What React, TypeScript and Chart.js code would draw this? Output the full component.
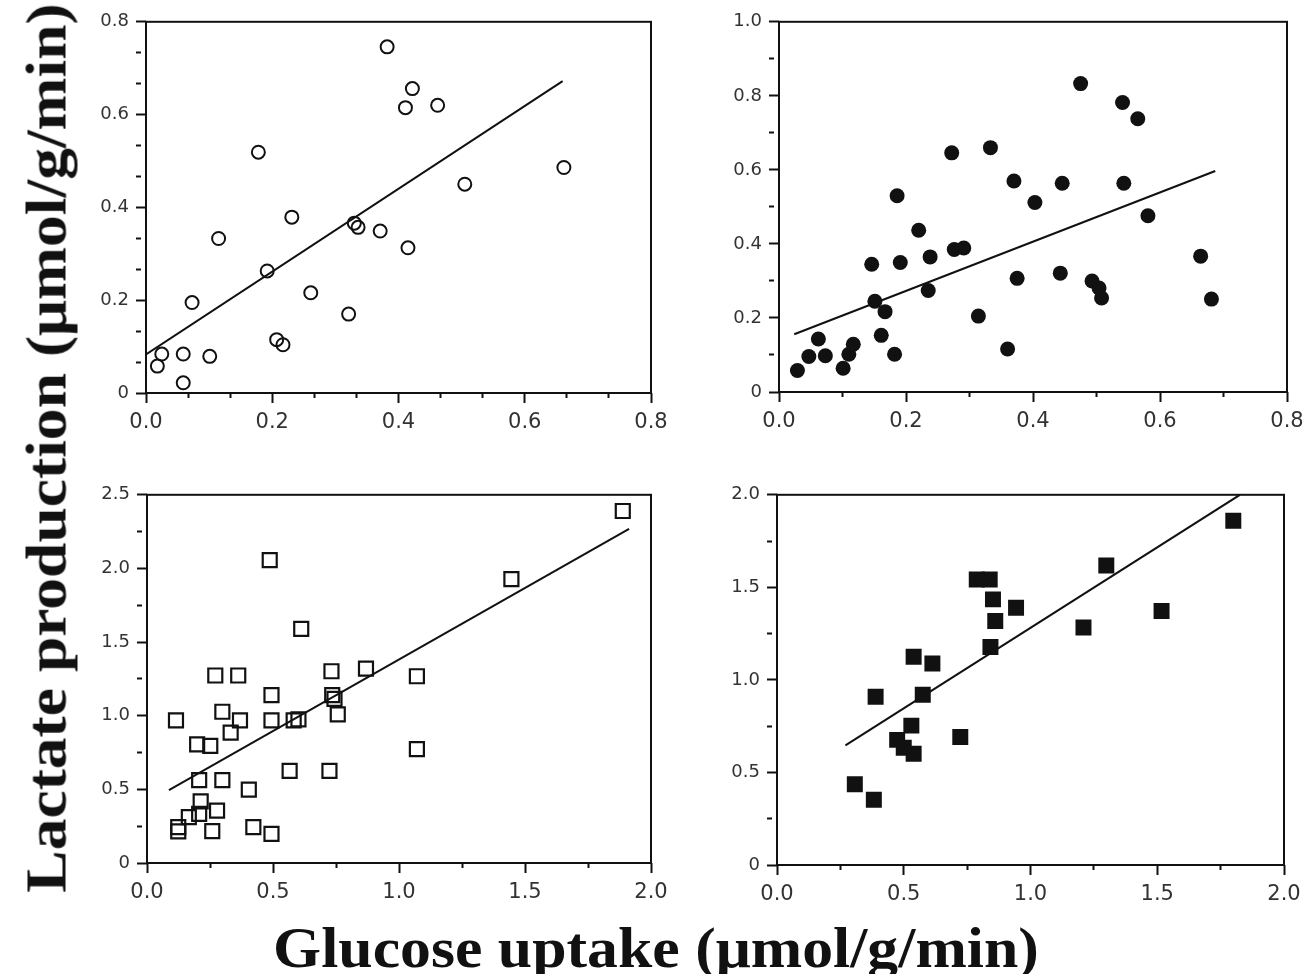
import React, { useEffect, useLayoutEffect, useRef } from "react";
import { Chart, registerables } from "chart.js";

Chart.register(...registerables);

// ---------- data ----------
// Top-left: open circles
const tlGlucose = [0.018, 0.025, 0.059, 0.059, 0.101, 0.073, 0.115, 0.178, 0.192, 0.207, 0.217, 0.231, 0.261, 0.321, 0.330, 0.336, 0.371, 0.382, 0.411, 0.422, 0.415, 0.462, 0.505, 0.662];
const tlLactate = [0.058, 0.084, 0.084, 0.022, 0.079, 0.195, 0.333, 0.519, 0.263, 0.115, 0.104, 0.379, 0.216, 0.170, 0.366, 0.357, 0.349, 0.746, 0.615, 0.656, 0.313, 0.620, 0.450, 0.486];
const tlFitX = [0.0, 0.66];
const tlFitY = [0.083, 0.672];

// Top-right: filled circles
const trGlucose = [0.029, 0.047, 0.062, 0.073, 0.101, 0.110, 0.117, 0.146, 0.151, 0.161, 0.167, 0.182, 0.186, 0.191, 0.220, 0.235, 0.238, 0.272, 0.276, 0.291, 0.314, 0.333, 0.360, 0.370, 0.375, 0.403, 0.443, 0.446, 0.475, 0.493, 0.504, 0.508, 0.541, 0.543, 0.565, 0.581, 0.664, 0.681];
const trLactate = [0.058, 0.096, 0.143, 0.098, 0.064, 0.102, 0.129, 0.345, 0.245, 0.153, 0.217, 0.102, 0.530, 0.350, 0.437, 0.274, 0.365, 0.646, 0.385, 0.389, 0.205, 0.660, 0.116, 0.570, 0.307, 0.512, 0.321, 0.564, 0.833, 0.300, 0.281, 0.254, 0.782, 0.564, 0.738, 0.476, 0.367, 0.251];
const trFitX = [0.024, 0.687];
const trFitY = [0.156, 0.597];

// Bottom-left: open squares
const blGlucose = [0.115, 0.124, 0.124, 0.166, 0.199, 0.207, 0.213, 0.207, 0.251, 0.259, 0.271, 0.278, 0.299, 0.299, 0.332, 0.362, 0.369, 0.404, 0.422, 0.487, 0.494, 0.494, 0.494, 0.566, 0.582, 0.601, 0.612, 0.724, 0.732, 0.735, 0.744, 0.757, 0.869, 1.071, 1.071, 1.446, 1.888];
const blLactate = [0.968, 0.243, 0.215, 0.311, 0.806, 0.563, 0.419, 0.333, 0.795, 0.216, 1.273, 0.356, 1.027, 0.563, 0.885, 1.273, 0.968, 0.498, 0.243, 2.056, 1.140, 0.968, 0.198, 0.626, 0.968, 0.975, 1.590, 0.626, 1.302, 1.140, 1.115, 1.009, 1.320, 1.268, 0.773, 1.928, 2.390];
const blFitX = [0.087, 1.913];
const blFitY = [0.495, 2.268];

// Bottom-right: filled squares
const brGlucose = [0.307, 0.382, 0.389, 0.474, 0.500, 0.530, 0.539, 0.539, 0.575, 0.613, 0.723, 0.788, 0.839, 0.852, 0.861, 0.842, 0.943, 1.209, 1.299, 1.517, 1.800];
const brLactate = [0.436, 0.353, 0.909, 0.676, 0.633, 0.753, 0.601, 1.125, 0.920, 1.089, 0.691, 1.543, 1.543, 1.435, 1.318, 1.178, 1.390, 1.283, 1.618, 1.372, 1.860];
const brFitX = [0.270, 1.826];
const brFitY = [0.646, 2.0];

// tick labels
const tlXTickValues = [0, 0.2, 0.4, 0.6, 0.8];
const tlXTickLabels = ["0.0", "0.2", "0.4", "0.6", "0.8"];
const tlYTickValues = [0, 0.2, 0.4, 0.6, 0.8];
const tlYTickLabels = ["0", "0.2", "0.4", "0.6", "0.8"];
const trXTickValues = [0, 0.2, 0.4, 0.6, 0.8];
const trXTickLabels = ["0.0", "0.2", "0.4", "0.6", "0.8"];
const trYTickValues = [0, 0.2, 0.4, 0.6, 0.8, 1.0];
const trYTickLabels = ["0", "0.2", "0.4", "0.6", "0.8", "1.0"];
const blXTickValues = [0, 0.5, 1.0, 1.5, 2.0];
const blXTickLabels = ["0.0", "0.5", "1.0", "1.5", "2.0"];
const blYTickValues = [0, 0.5, 1.0, 1.5, 2.0, 2.5];
const blYTickLabels = ["0", "0.5", "1.0", "1.5", "2.0", "2.5"];
const brXTickValues = [0, 0.5, 1.0, 1.5, 2.0];
const brXTickLabels = ["0.0", "0.5", "1.0", "1.5", "2.0"];
const brYTickValues = [0, 0.5, 1.0, 1.5, 2.0];
const brYTickLabels = ["0", "0.5", "1.0", "1.5", "2.0"];

const xTitle = "Glucose uptake (μmol/g/min)";
const yTitle = "Lactate production (μmol/g/min)";

// ---------- layout ----------
const PAD_L = 80;
const PAD_T = 16;
const PAD_R = 36;
const PAD_B = 50;
const INK = "#111";

type PanelCfg = {
  box: { l: number; t: number; r: number; b: number };
  xMax: number;
  yMax: number;
  xMinor: number;
  yMinor: number;
  xTickValues: number[];
  xTickLabels: string[];
  yTickValues: number[];
  yTickLabels: string[];
  xs: number[];
  ys: number[];
  fitX: number[];
  fitY: number[];
  pointStyle: "circle" | "rect";
  radius: number;
  filled: boolean;
  borderWidth: number;
};

const panels: PanelCfg[] = [
  {
    box: { l: 146, t: 20, r: 651, b: 393 },
    xMax: 0.8, yMax: 0.8, xMinor: 0.8 / 12, yMinor: 0.8 / 12,
    xTickValues: tlXTickValues, xTickLabels: tlXTickLabels,
    yTickValues: tlYTickValues, yTickLabels: tlYTickLabels,
    xs: tlGlucose, ys: tlLactate, fitX: tlFitX, fitY: tlFitY,
    pointStyle: "circle", radius: 6.5, filled: false, borderWidth: 2,
  },
  {
    box: { l: 779, t: 20, r: 1287, b: 392 },
    xMax: 0.8, yMax: 1.0, xMinor: 0.1, yMinor: 0.1,
    xTickValues: trXTickValues, xTickLabels: trXTickLabels,
    yTickValues: trYTickValues, yTickLabels: trYTickLabels,
    xs: trGlucose, ys: trLactate, fitX: trFitX, fitY: trFitY,
    pointStyle: "circle", radius: 7.5, filled: true, borderWidth: 0,
  },
  {
    box: { l: 147, t: 493, r: 651, b: 863 },
    xMax: 2.0, yMax: 2.5, xMinor: 0.25, yMinor: 0.25,
    xTickValues: blXTickValues, xTickLabels: blXTickLabels,
    yTickValues: blYTickValues, yTickLabels: blYTickLabels,
    xs: blGlucose, ys: blLactate, fitX: blFitX, fitY: blFitY,
    pointStyle: "rect", radius: 9.9, filled: false, borderWidth: 2.2,
  },
  {
    box: { l: 777, t: 493, r: 1284, b: 865 },
    xMax: 2.0, yMax: 2.0, xMinor: 0.25, yMinor: 0.25,
    xTickValues: brXTickValues, xTickLabels: brXTickLabels,
    yTickValues: brYTickValues, yTickLabels: brYTickLabels,
    xs: brGlucose, ys: brLactate, fitX: brFitX, fitY: brFitY,
    pointStyle: "rect", radius: 11.3, filled: true, borderWidth: 0,
  },
];

const framePlugin = {
  id: "frame",
  beforeDatasetsDraw(chart: any) {
    const { ctx, chartArea } = chart;
    const { left, top, right, bottom } = chartArea;
    ctx.save();
    ctx.strokeStyle = INK;
    ctx.lineWidth = 2;
    ctx.strokeRect(left, top, right - left, bottom - top);
    ctx.restore();
  },
};

const near = (a: number, b: number) => Math.abs(a - b) < 1e-6;

function scaleOptions(
  axis: "x" | "y",
  max: number,
  minor: number,
  values: number[],
  labels: string[],
  fontSize: number,
  padding: number
) {
  const isMajor = (v: number) => values.some((lv) => near(lv, v));
  return {
    type: "linear",
    position: axis === "x" ? "bottom" : "left",
    min: 0,
    max,
    afterBuildTicks: (scale: any) => {
      const t: { value: number }[] = [];
      const n = Math.round(max / minor);
      for (let i = 0; i <= n; i++) t.push({ value: i * minor });
      scale.ticks = t;
    },
    afterFit: (scale: any) => {
      if (axis === "x") scale.height = PAD_B;
      else scale.width = PAD_L;
    },
    border: { display: false },
    grid: {
      drawOnChartArea: false,
      drawTicks: true,
      tickLength: 10,
      tickWidth: 2,
      tickColor: INK,
      tickBorderDash: (c: any) => (c.tick && isMajor(c.tick.value) ? [] : [5, 40]),
    },
    ticks: {
      autoSkip: false,
      maxRotation: 0,
      minRotation: 0,
      padding,
      color: "#333",
      font: { family: "'DejaVu Sans', sans-serif", size: fontSize },
      callback: (v: number) => {
        const i = values.findIndex((lv) => near(lv, v));
        return i >= 0 ? labels[i] : "";
      },
    },
  };
}

function Panel({ cfg }: { cfg: PanelCfg }) {
  const ref = useRef<HTMLCanvasElement>(null);
  const w = cfg.box.r - cfg.box.l + PAD_L + PAD_R;
  const h = cfg.box.b - cfg.box.t + PAD_T + PAD_B;

  useEffect(() => {
    const points = cfg.xs.map((x, i) => ({ x, y: cfg.ys[i] }));
    const fit = cfg.fitX.map((x, i) => ({ x, y: cfg.fitY[i] }));
    const chart = new Chart(ref.current as HTMLCanvasElement, {
      type: "scatter",
      data: {
        datasets: [
          {
            label: "data",
            data: points,
            order: 1,
            pointStyle: cfg.pointStyle,
            pointRadius: cfg.radius,
            pointHoverRadius: cfg.radius,
            pointBorderWidth: cfg.borderWidth,
            pointBorderColor: INK,
            pointBackgroundColor: cfg.filled ? INK : "rgba(0,0,0,0)",
            showLine: false,
          } as any,
          {
            label: "fit",
            data: fit,
            order: 2,
            showLine: true,
            borderColor: INK,
            borderWidth: 2,
            pointRadius: 0,
            pointHoverRadius: 0,
            fill: false,
          } as any,
        ],
      },
      options: {
        responsive: false,
        animation: false,
        devicePixelRatio: 1,
        layout: { padding: { left: 0, top: PAD_T, right: PAD_R, bottom: 0 } },
        plugins: { legend: { display: false }, tooltip: { enabled: false } },
        scales: {
          x: scaleOptions("x", cfg.xMax, cfg.xMinor, cfg.xTickValues, cfg.xTickLabels, 21, 7) as any,
          y: scaleOptions("y", cfg.yMax, cfg.yMinor, cfg.yTickValues, cfg.yTickLabels, 18, 7) as any,
        },
      },
      plugins: [framePlugin],
    });
    return () => chart.destroy();
  }, []);

  return (
    <canvas
      ref={ref}
      width={w}
      height={h}
      style={{
        position: "absolute",
        left: cfg.box.l - PAD_L,
        top: cfg.box.t - PAD_T,
        width: w,
        height: h,
      }}
    />
  );
}

function FitText({
  text,
  cx,
  cy,
  target,
  rotate,
}: {
  text: string;
  cx: number;
  cy: number;
  target: number;
  rotate: boolean;
}) {
  const ref = useRef<HTMLDivElement>(null);
  useLayoutEffect(() => {
    const el = ref.current;
    if (!el) return;
    const wNat = el.offsetWidth || 1;
    const k = target / wNat;
    el.style.transform = `translate(-50%, -50%)${rotate ? " rotate(-90deg)" : ""} scaleX(${k})`;
  }, []);
  return (
    <div
      ref={ref}
      style={{
        position: "absolute",
        left: cx,
        top: cy,
        fontFamily: "'Liberation Serif', 'Times New Roman', serif",
        fontWeight: 700,
        fontSize: 57,
        lineHeight: 1,
        whiteSpace: "nowrap",
        color: INK,
        transform: `translate(-50%, -50%)${rotate ? " rotate(-90deg)" : ""}`,
      }}
    >
      {text}
    </div>
  );
}

export default function App() {
  return (
    <div
      style={{
        position: "absolute",
        left: 0,
        top: 0,
        width: 1309,
        height: 974,
        background: "#fff",
        overflow: "hidden",
      }}
    >
      {panels.map((p, i) => (
        <Panel key={i} cfg={p} />
      ))}
      <FitText text={yTitle} cx={46} cy={448} target={890} rotate={true} />
      <FitText text={xTitle} cx={656} cy={947} target={766} rotate={false} />
    </div>
  );
}
